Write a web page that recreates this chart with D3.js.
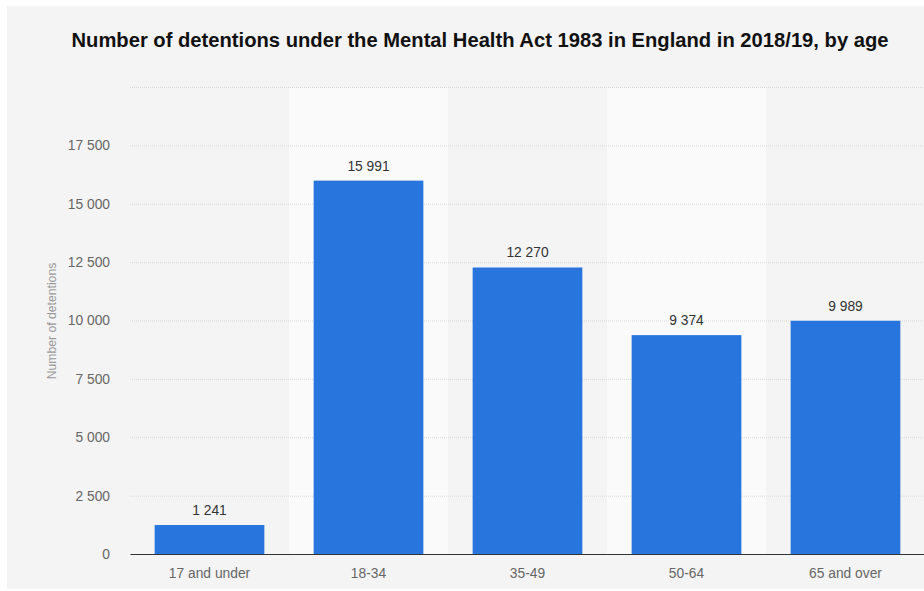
<!DOCTYPE html>
<html>
<head>
<meta charset="utf-8">
<script src="https://cdn.jsdelivr.net/npm/d3@7/dist/d3.min.js"></script>
<style>
  html, body { margin: 0; padding: 0; background: #ffffff; }
  svg { display: block; }
  text { font-family: "Liberation Sans", Arial, Helvetica, sans-serif; }
</style>
</head>
<body>
<svg id="chart" width="924" height="591"></svg>
<script>
// Detentions under the Mental Health Act 1983, England 2018/19, by age group
const categories = ["17 and under", "18-34", "35-49", "50-64", "65 and over"];
const detentions = [1241, 15991, 12270, 9374, 9989];
const yTicks = [0, 2500, 5000, 7500, 10000, 12500, 15000, 17500, 20000];
const yTickLabels = ["0", "2 500", "5 000", "7 500", "10 000", "12 500", "15 000", "17 500", ""];

const title = "Number of detentions under the Mental Health Act 1983 in England in 2018/19, by age";
const yTitle = "Number of detentions";

const W = 924, H = 591;
const margin = { top: 87, right: -1, bottom: 37, left: 130 };
const svg = d3.select("#chart");

// Panel background
svg.append("rect")
  .attr("x", 7).attr("y", 6)
  .attr("width", W - 7).attr("height", 583)
  .attr("fill", "#f4f4f4");

const x = d3.scaleBand()
  .domain(categories)
  .range([margin.left, W - margin.right])
  .paddingInner(0.31)
  .paddingOuter(0.155);

const y = d3.scaleLinear()
  .domain([0, 20000])
  .range([H - margin.bottom, margin.top]);

const fmt = v => d3.format(",")(v).replace(/,/g, " ");

// Alternating column bands
const step = x.step();
svg.append("g").selectAll("rect")
  .data(categories)
  .join("rect")
  .attr("x", d => x(d) - step * x.paddingInner() / 2)
  .attr("y", y(20000))
  .attr("width", step)
  .attr("height", y(0) - y(20000))
  .attr("fill", (d, i) => i % 2 === 1 ? "#fafafa" : "#f4f4f4");

// Gridlines
svg.append("g").selectAll("line")
  .data(yTicks.filter(t => t > 0))
  .join("line")
  .attr("x1", margin.left).attr("x2", W)
  .attr("y1", d => y(d) + 0.5).attr("y2", d => y(d) + 0.5)
  .attr("stroke", "#d9d9d9")
  .attr("stroke-width", 1)
  .attr("stroke-dasharray", "1,1");

// Y axis tick labels
const yAxis = d3.axisLeft(y)
  .tickValues(yTicks)
  .tickFormat((d, i) => yTickLabels[i])
  .tickSize(0)
  .tickPadding(0);
const gy = svg.append("g")
  .attr("transform", `translate(${110},0)`)
  .call(yAxis);
gy.select(".domain").remove();
gy.selectAll("text")
  .attr("fill", "#666")
  .attr("font-size", 13.8);

// Bars
svg.append("g").selectAll("rect")
  .data(detentions)
  .join("rect")
  .attr("x", (d, i) => x(categories[i]))
  .attr("y", d => y(d))
  .attr("width", x.bandwidth())
  .attr("height", d => y(0) - y(d))
  .attr("fill", "#2876dd");

// Value labels
svg.append("g").selectAll("text")
  .data(detentions)
  .join("text")
  .attr("x", (d, i) => x(categories[i]) + x.bandwidth() / 2)
  .attr("y", d => y(d) - 10)
  .attr("text-anchor", "middle")
  .attr("fill", "#333")
  .attr("font-size", 13.8)
  .text(d => fmt(d));

// X axis
const xAxis = d3.axisBottom(x).tickSize(0).tickPadding(14);
const gx = svg.append("g")
  .attr("transform", `translate(0,${y(0)})`)
  .call(xAxis);
gx.select(".domain").attr("stroke", "#333").attr("stroke-width", 1.2);
gx.selectAll("text")
  .attr("fill", "#666")
  .attr("font-size", 13.8);

// Axis title
svg.append("text")
  .attr("transform", `translate(56,321) rotate(-90)`)
  .attr("text-anchor", "middle")
  .attr("fill", "#999")
  .attr("font-size", 12.2)
  .text(yTitle);

// Chart title
svg.append("text")
  .attr("x", 480)
  .attr("y", 47)
  .attr("text-anchor", "middle")
  .attr("fill", "#111")
  .attr("font-size", 20.2)
  .attr("font-weight", "bold")
  .text(title);
</script>
</body>
</html>
